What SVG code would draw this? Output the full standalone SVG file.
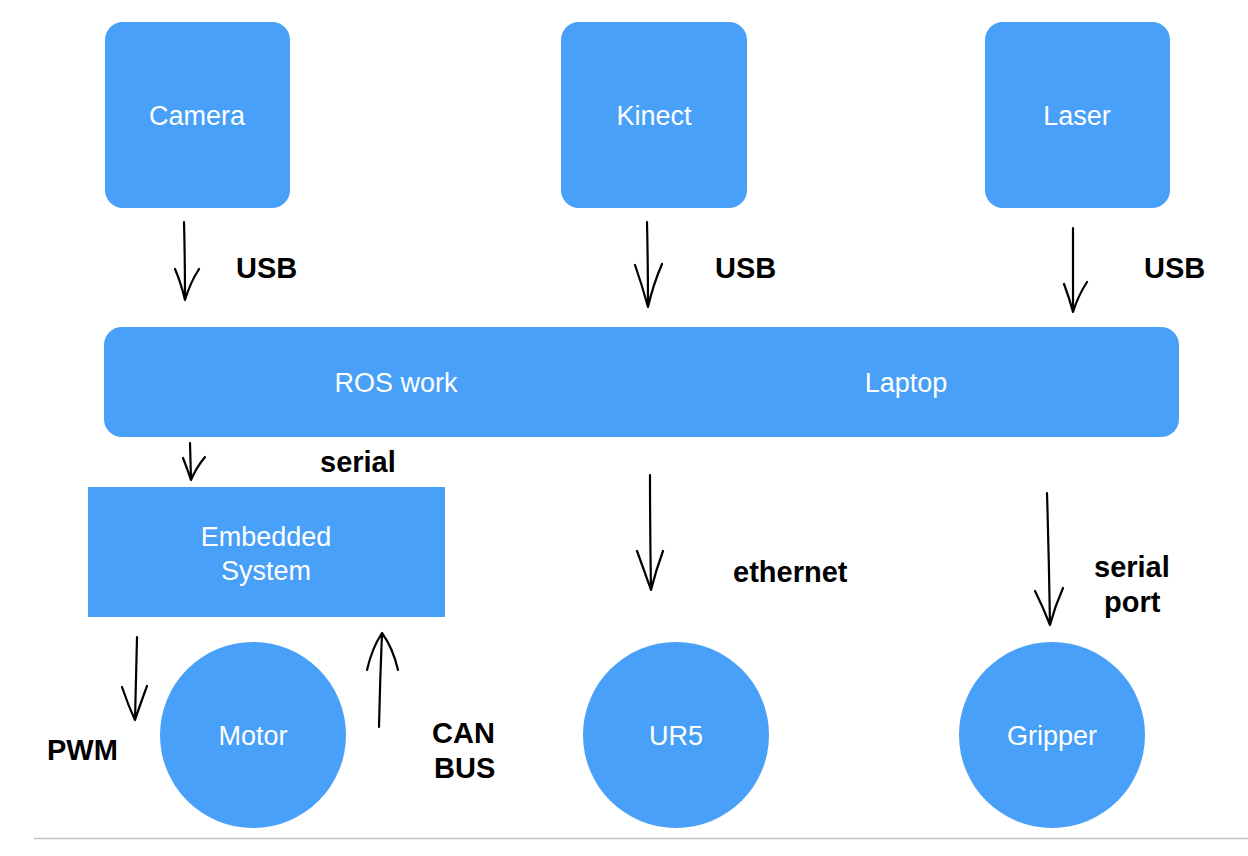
<svg xmlns="http://www.w3.org/2000/svg" width="1248" height="856" viewBox="0 0 1248 856">
<style>
.node{fill:#48A0F8}
.nt{fill:#fff;font-family:"Liberation Sans",Arial,sans-serif;font-size:27px;text-anchor:middle}
.lbl{fill:#000;font-family:"Liberation Sans",Arial,sans-serif;font-size:29px;font-weight:bold}
.arr{fill:none;stroke:#000;stroke-width:2.2;stroke-linecap:round;stroke-linejoin:round}
</style>
<rect width="1248" height="856" fill="#fff"/>
<line x1="34" y1="838.5" x2="1248" y2="838.5" stroke="#c4c4c4" stroke-width="1.5"/>
<g id="camera"><rect class="node" x="105" y="22" width="185" height="186" rx="18"/><text class="nt" x="197" y="125">Camera</text></g>
<g id="kinect"><rect class="node" x="561" y="22" width="186" height="186" rx="18"/><text class="nt" x="654" y="125">Kinect</text></g>
<g id="laser"><rect class="node" x="985" y="22" width="185" height="186" rx="18"/><text class="nt" x="1077" y="125">Laser</text></g>
<g id="laptop"><rect class="node" x="104" y="327" width="1075" height="110" rx="18"/><text class="nt" x="396" y="392">ROS work</text><text class="nt" x="906" y="392">Laptop</text></g>
<g id="embedded"><rect class="node" x="88" y="487" width="357" height="130"/><text class="nt" x="266" y="546">Embedded</text><text class="nt" x="266" y="580">System</text></g>
<g id="motor"><circle class="node" cx="253" cy="735" r="93"/><text class="nt" x="253" y="745">Motor</text></g>
<g id="ur5"><circle class="node" cx="676" cy="735" r="93"/><text class="nt" x="676" y="745">UR5</text></g>
<g id="gripper"><circle class="node" cx="1052" cy="735" r="93"/><text class="nt" x="1052" y="745">Gripper</text></g>
<g id="connectors">
<path class="arr" d="M184 222 Q185 260 185 300 M175 269 Q181 283 185 300 Q190 283 199 269"/>
<path class="arr" d="M647 222 Q648 265 648 307 M635 265 Q642 285 648 307 Q653 285 662 264"/>
<path class="arr" d="M1073 228 Q1073 270 1073 312 M1064 284 Q1069 297 1073 312 Q1078 296 1087 282"/>
<path class="arr" d="M190 443 L191 480 M183 458 Q187 468 191 480 Q196 468 205 457"/>
<path class="arr" d="M650 475 Q650 532 651 590 M637 551 Q644 570 651 590 Q656 570 663 551"/>
<path class="arr" d="M1047 493 Q1049 560 1050 625 M1035 591 Q1043 607 1050 625 Q1055 606 1063 588"/>
<path class="arr" d="M137 637 Q136 680 135 720 M122 687 Q128 705 135 720 Q140 705 147 686"/>
<path class="arr" d="M379 727 Q380 680 382 633 M367 670 Q372 648 382 633 Q393 648 398 670"/>
</g>
<g id="labels">
<text class="lbl" x="236" y="278">USB</text>
<text class="lbl" x="715" y="278">USB</text>
<text class="lbl" x="1144" y="278">USB</text>
<text class="lbl" x="320" y="472">serial</text>
<text class="lbl" x="733" y="582">ethernet</text>
<text class="lbl" x="1094" y="577">serial</text>
<text class="lbl" x="1104" y="612">port</text>
<text class="lbl" x="47" y="760">PWM</text>
<text class="lbl" x="432" y="743">CAN</text>
<text class="lbl" x="434" y="778">BUS</text>
</g>
</svg>
